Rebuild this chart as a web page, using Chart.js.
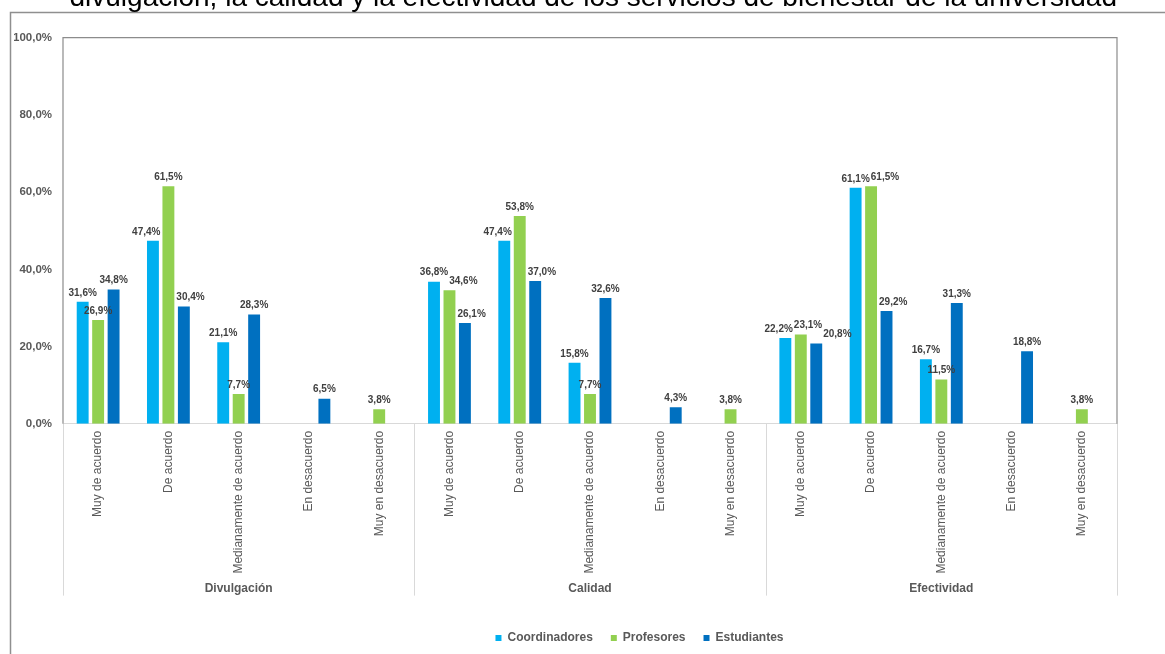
<!DOCTYPE html>
<html>
<head>
<meta charset="utf-8">
<script src="https://cdn.jsdelivr.net/npm/chart.js@4"></script>
<style>
  body { margin: 0; background: #fff; overflow: hidden; }
  #wrap { position: absolute; left: 0; top: -19px; }
</style>
</head>
<body>
<div id="wrap"><canvas id="chart" width="1165" height="673"></canvas></div>
<script>
const titleText = "divulgación, la calidad y la efectividad de los servicios de bienestar de la universidad";

const groups = ["Divulgación", "Calidad", "Efectividad"];
const categories = ["Muy de acuerdo", "De acuerdo", "Medianamente de acuerdo", "En desacuerdo", "Muy en desacuerdo"];

const coordinadores = [31.6, 47.4, 21.1, null, null, 36.8, 47.4, 15.8, null, null, 22.2, 61.1, 16.7, null, null];
const profesores = [26.9, 61.5, 7.7, null, 3.8, 34.6, 53.8, 7.7, null, 3.8, 23.1, 61.5, 11.5, null, 3.8];
const estudiantes = [34.8, 30.4, 28.3, 6.5, null, 26.1, 37.0, 32.6, 4.3, null, 20.8, 29.2, 31.3, 18.8, null];

const labels = groups.flatMap(() => categories);

const FONT = "'Liberation Sans', Arial, sans-serif";
const GREY = "#595959";

function pct(v) {
  return v.toFixed(1).replace(".", ",") + "%";
}

// frame, plot border and group separators
const framePlugin = {
  id: "frame",
  afterLayout(chart) {
    // legend sits right of centre in the original
    chart.legend.left += 74;
    chart.legend.right += 74;
  },
  beforeDraw(chart) {
    const ctx = chart.ctx;
    ctx.save();
    ctx.strokeStyle = "#8f8f8f";
    ctx.lineWidth = 1.5;
    ctx.beginPath();
    ctx.moveTo(10.5, chart.height);
    ctx.lineTo(10.5, 31.5);
    ctx.lineTo(chart.width, 31.5);
    ctx.stroke();
    ctx.restore();
  },
  afterDraw(chart) {
    const { ctx, chartArea: a } = chart;
    const x = chart.scales.x;
    const g = chart.scales.group;
    ctx.save();
    ctx.strokeStyle = "#8c8c8c";
    ctx.lineWidth = 1.2;
    ctx.beginPath();
    ctx.moveTo(a.left, a.bottom);
    ctx.lineTo(a.left, a.top);
    ctx.lineTo(a.right, a.top);
    ctx.lineTo(a.right, a.bottom);
    ctx.stroke();

    const bottom = g.top + g.options.ticks.padding + 14;
    ctx.strokeStyle = "#d9d9d9";
    ctx.lineWidth = 1;
    const n = categories.length;
    for (let i = 0; i <= groups.length; i++) {
      let px;
      if (i === 0) px = a.left;
      else if (i === groups.length) px = a.right;
      else px = (x.getPixelForValue(i * n - 1) + x.getPixelForValue(i * n)) / 2;
      ctx.beginPath();
      ctx.moveTo(Math.round(px) + 0.5, a.bottom);
      ctx.lineTo(Math.round(px) + 0.5, bottom);
      ctx.stroke();
    }
    ctx.restore();
  }
};

// value labels above the bars
const valueLabels = {
  id: "valueLabels",
  afterDatasetsDraw(chart) {
    const ctx = chart.ctx;
    ctx.save();
    ctx.font = "bold 10px " + FONT;
    ctx.fillStyle = "#404040";
    ctx.textAlign = "center";
    ctx.textBaseline = "middle";
    const metas = chart.data.datasets.map((d, i) => chart.getDatasetMeta(i));
    const tol = 3;
    for (let k = 0; k < labels.length; k++) {
      const bars = metas.map((m, i) => {
        const v = chart.data.datasets[i].data[k];
        return v == null ? null : { el: m.data[k], v };
      });
      const placed = [];
      bars.forEach((b, i) => {
        if (!b) return;
        const text = pct(b.v);
        const w = ctx.measureText(text).width;
        const half = b.el.width / 2;
        let x = b.el.x;
        let y = b.el.y - 9;
        const left = bars[i - 1];
        const right = bars[i + 1];
        const hitL = left && left.el.y < y + 6 && (left.el.x + half) - (x - w / 2) > tol;
        const hitR = right && right.el.y < y + 6 && (x + w / 2) - (right.el.x - half) > tol;
        if (hitL && !hitR) x = left.el.x + half + 2 + w / 2;
        if (hitR && !hitL) x = right.el.x - half - 2 - w / 2;
        placed.forEach(p => {
          const ox = Math.min(p.x + p.w / 2, x + w / 2) - Math.max(p.x - p.w / 2, x - w / 2);
          const oy = 12 - Math.abs(p.y - y);
          if (ox > tol && oy > tol) x = p.x + p.w / 2 + 1 + w / 2;
        });
        placed.push({ x, y, w });
        ctx.fillText(text, x, y);
      });
    }
    ctx.restore();
  }
};

new Chart(document.getElementById("chart"), {
  type: "bar",
  data: {
    labels: labels,
    datasets: [
      { label: "Coordinadores", data: coordinadores, backgroundColor: "#00b0f0" },
      { label: "Profesores", data: profesores, backgroundColor: "#92d050" },
      { label: "Estudiantes", data: estudiantes, backgroundColor: "#0070c0" }
    ]
  },
  options: {
    responsive: false,
    animation: false,
    devicePixelRatio: 1,
    categoryPercentage: 0.66,
    barPercentage: 0.77,
    layout: { padding: { left: 14, right: 48, top: 0, bottom: 0 } },
    plugins: {
      title: {
        display: true,
        text: titleText,
        align: "end",
        color: "#000",
        font: { family: FONT, size: 28, weight: "normal" },
        padding: { top: 0, bottom: 23 }
      },
      legend: {
        position: "bottom",
        labels: {
          boxWidth: 6,
          boxHeight: 6,
          padding: 18,
          color: GREY,
          font: { family: FONT, size: 12, weight: "bold" }
        }
      },
      tooltip: { enabled: false }
    },
    scales: {
      x: {
        grid: { display: false, drawTicks: false },
        border: { color: "#d9d9d9" },
        ticks: {
          autoSkip: false,
          minRotation: 90,
          maxRotation: 90,
          padding: 7,
          color: GREY,
          font: { family: FONT, size: 12 }
        }
      },
      group: {
        type: "category",
        position: "bottom",
        labels: groups,
        offset: true,
        weight: 1,
        grid: { display: false, drawTicks: false },
        border: { display: false },
        ticks: {
          padding: 1,
          color: GREY,
          font: { family: FONT, size: 12, weight: "bold" }
        },
        afterFit(scale) { scale.height += 17; }
      },
      y: {
        min: 0,
        max: 100,
        grid: { display: false, drawTicks: false },
        border: { display: false },
        ticks: {
          stepSize: 20,
          padding: 11,
          color: GREY,
          font: { family: FONT, size: 11.5, weight: "bold" },
          callback: v => pct(v)
        },
        afterFit(scale) { scale.width = 49; }
      }
    }
  },
  plugins: [framePlugin, valueLabels]
});
</script>
</body>
</html>
